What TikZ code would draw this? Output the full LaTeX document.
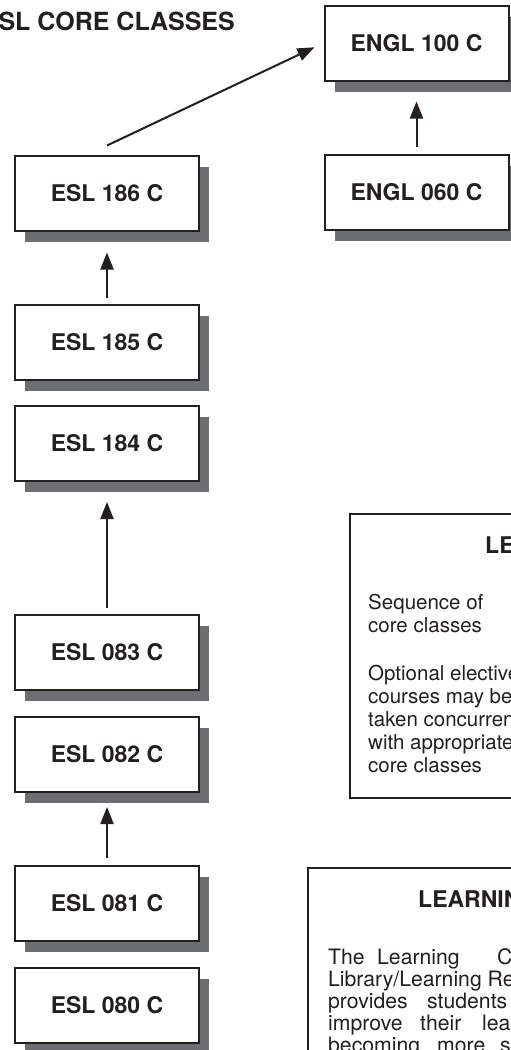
\documentclass[tikz,border=0pt]{standalone}
\usepackage{fontspec}
\setmainfont{TeX Gyre Heros}
\usetikzlibrary{arrows.meta,shadows}
\definecolor{shadowgray}{HTML}{6D6E71}
\definecolor{inkblack}{HTML}{231F20}
\begin{document}
\begin{tikzpicture}[x=1pt,y=-1pt,
  course/.style={draw=inkblack, line width=2pt, fill=white, minimum width=184pt, minimum height=75pt, inner sep=0pt,
    font=\fontsize{23}{27}\selectfont\bfseries, text=inkblack,
    drop shadow={shadow xshift=10pt, shadow yshift=-11pt, fill=shadowgray, opacity=1}},
  panel/.style={draw=inkblack, line width=2pt, fill=white, inner sep=0pt},
  arr/.style={draw=inkblack, line width=2pt, -{Triangle[length=17pt,width=13pt]}},
  bodytext/.style={anchor=base west, inner sep=0pt, text=inkblack, font=\fontsize{20.5}{23}\selectfont},
  lctext/.style={anchor=base west, inner sep=0pt, text=inkblack, font=\fontsize{21.2}{23}\selectfont},
  heading/.style={anchor=base west, inner sep=0pt, text=inkblack, font=\fontsize{23}{27}\selectfont\bfseries}]
\useasboundingbox (0,0) rectangle (511,1050);
\clip (0,0) rectangle (511,1050);

\node[anchor=base east, inner sep=0pt, text=inkblack, font=\fontsize{25}{30}\selectfont\bfseries] (title) at (235,30) {ESL CORE CLASSES};

% course boxes
\node[course] (e186) at (107,193) {ESL 186 C};
\node[course] (e185) at (107,342) {ESL 185 C};
\node[course] (e184) at (107,443.5) {ESL 184 C};
\node[course] (e083) at (107,652) {ESL 083 C};
\node[course] (e082) at (107,754.5) {ESL 082 C};
\node[course] (e081) at (107,903.5) {ESL 081 C};
\node[course] (e080) at (107,1005) {ESL 080 C};
\node[course] (g100) at (416.5,43) {ENGL 100 C};
\node[course] (g060) at (416.5,192.5) {ENGL 060 C};

% connectors
\draw[arr, shorten <=6pt, shorten >=21pt] (e185.north) -- (e186.south);
\draw[arr, shorten <=6pt, shorten >=20pt] (e083.north) -- (e184.south);
\draw[arr, shorten <=7pt, shorten >=14pt] (e081.north) -- (e082.south);
\draw[arr, shorten <=7pt, shorten >=20pt] (g060.north) -- (g100.south);
\draw[arr, shorten >=10pt] ([yshift=9pt]e186.north) -- (g100.west);

% legend panel
\node[panel, minimum width=210pt, minimum height=284pt] (legend) at (455,656) {};
\node[heading] (legtitle) at (485,553) {LEGEND};
\node[bodytext] (seq1) at (368,609) {Sequence of};
\node[bodytext] (seq2) at (368,632) {core classes};
\node[bodytext] (opt1) at (368,680) {Optional elective};
\node[bodytext] (opt2) at (368,703) {courses may be};
\node[bodytext] (opt3) at (368,726) {taken concurrently};
\node[bodytext] (opt4) at (368,749) {with appropriate};
\node[bodytext] (opt5) at (368,772) {core classes};

% learning center panel
\node[panel, minimum width=252pt, minimum height=212pt] (learn) at (434,974) {};
\node[heading] (lctitle) at (418,907) {LEARNING CENTER};
\node[lctext] (l1a) at (328,964) {The};
\node[lctext] (l1b) at (377,964) {Learning};
\node[lctext] (l1c) at (497,964) {Center};
\node[lctext] (l2) at (328,986) {Library/Learning Resource};
\node[lctext] (l3a) at (328,1008) {provides};
\node[lctext] (l3b) at (427,1008) {students};
\node[lctext] (l4a) at (328,1030) {improve};
\node[lctext] (l4b) at (420,1030) {their};
\node[lctext] (l4c) at (482,1030) {learning};
\node[lctext] (l5a) at (328,1052) {becoming};
\node[lctext] (l5b) at (437,1052) {more};
\node[lctext] (l5c) at (500,1052) {successful};
\end{tikzpicture}
\end{document}
